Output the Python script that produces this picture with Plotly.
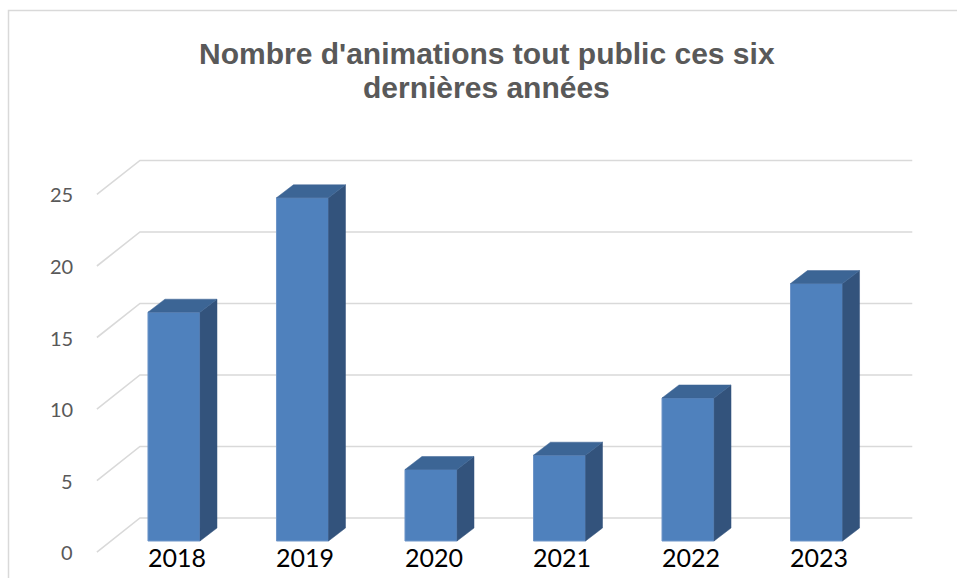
import plotly.graph_objects as go

# ---- data ----
years = ["2018", "2019", "2020", "2021", "2022", "2023"]
values = [16, 24, 5, 6, 10, 18]
y_ticks = [0, 5, 10, 15, 20, 25]
title_lines = ["Nombre d'animations tout public ces six", "dernières années"]

# ---- styling / geometry (axis units) ----
W, H = 957, 578
FRONT = "#4F81BD"
SIDE = "#33537C"
TOP = "#3C6595"
GRID = "#D9D9D9"
BAR_HALF = 0.2025          # half width of a bar front face (category units)
DEPTH_X, DEPTH_Y = 0.132, 0.91   # 3D depth offset of bars
GX_FRONT, GX_BACK, GX_END = -0.600, -0.265, 5.745
GDY_FRONT, GDY_BACK = -0.77, 1.61
X_RANGE = [-1.354, 6.093]
Y_RANGE = [-2.587, 37.83]

fig = go.Figure()

xs = list(range(len(years)))

# front faces
fig.add_trace(go.Bar(
    x=xs, y=values, width=2 * BAR_HALF,
    marker=dict(color=FRONT, line=dict(color="#6E95C8", width=1)),
    hoverinfo="skip", showlegend=False,
))

# side and top faces
for i, v in zip(xs, values):
    r = i + BAR_HALF
    l = i - BAR_HALF
    fig.add_trace(go.Scatter(
        x=[r, r + DEPTH_X, r + DEPTH_X, r, r],
        y=[0, DEPTH_Y, v + DEPTH_Y, v, 0],
        fill="toself", fillcolor=SIDE, mode="lines",
        line=dict(color=SIDE, width=0.5), hoverinfo="skip", showlegend=False,
    ))
    fig.add_trace(go.Scatter(
        x=[l, l + DEPTH_X, r + DEPTH_X, r, l],
        y=[v, v + DEPTH_Y, v + DEPTH_Y, v, v],
        fill="toself", fillcolor=TOP, mode="lines",
        line=dict(color=TOP, width=0.5), hoverinfo="skip", showlegend=False,
    ))

shapes = []
# gridlines (floor-to-back-wall perspective)
for t in y_ticks:
    path = (f"M {GX_FRONT},{t + GDY_FRONT} L {GX_BACK},{t + GDY_BACK} "
            f"L {GX_END},{t + GDY_BACK}")
    shapes.append(dict(type="path", path=path, xref="x", yref="y",
                       line=dict(color=GRID, width=1.6), layer="below"))
# chart border
shapes.append(dict(type="rect", xref="paper", yref="paper",
                   x0=8.5 / W, x1=1.02, y0=-0.02, y1=1 - 10.5 / H,
                   line=dict(color=GRID, width=1.5), layer="below"))

annotations = []
for t in y_ticks:
    annotations.append(dict(x=75 / W, xref="paper", y=t + GDY_FRONT, yref="y",
                            text=str(t), showarrow=False, xanchor="right",
                            yanchor="middle",
                            font=dict(family="Lato", size=20, color="#595959")))
for i, yr in zip(xs, years):
    annotations.append(dict(x=i + 0.02, xref="x", y=-1.12, yref="y",
                            text=yr, showarrow=False, xanchor="center",
                            yanchor="middle",
                            font=dict(family="Lato", size=25, color="#000000")))
for k, line in enumerate(title_lines):
    annotations.append(dict(x=487 / W, xref="paper", y=1 - (53.5 + 34 * k) / H,
                            yref="paper", text=f"<b>{line}</b>", showarrow=False,
                            xanchor="center", yanchor="middle",
                            font=dict(family="Liberation Sans", size=30,
                                      color="#595959")))

fig.update_layout(
    width=W, height=H,
    margin=dict(l=0, r=0, t=0, b=0),
    paper_bgcolor="white", plot_bgcolor="white",
    xaxis=dict(range=X_RANGE, visible=False, fixedrange=True),
    yaxis=dict(range=Y_RANGE, visible=False, fixedrange=True),
    shapes=shapes, annotations=annotations,
    showlegend=False,
)

fig.write_html(
    "out.html",
    config={"displayModeBar": False},
    post_script="document.body.style.margin='0';document.body.style.overflow='hidden';",
)
